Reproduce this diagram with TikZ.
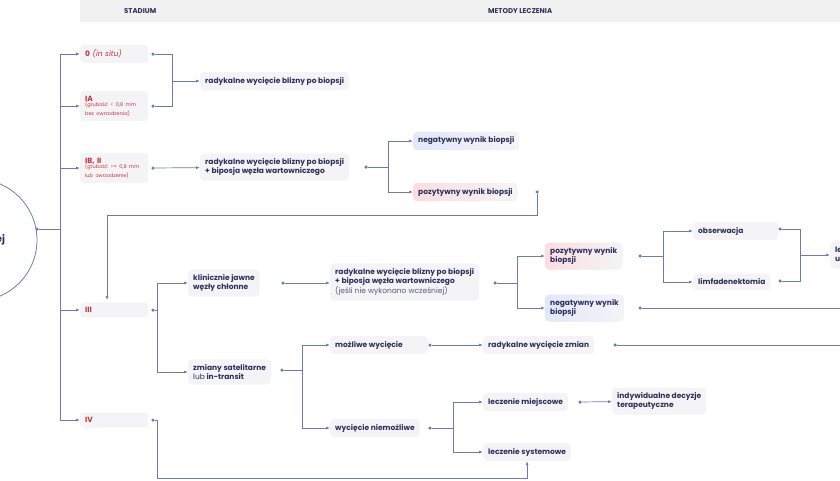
\documentclass[tikz,border=0pt]{standalone}
\usepackage{fontspec}
\setmainfont{Poppins}
\usetikzlibrary{positioning, arrows.meta}
\definecolor{navy}{HTML}{2E3058}
\definecolor{stagered}{HTML}{C8323C}
\definecolor{wirecol}{HTML}{7079B8}
\definecolor{boxgray}{HTML}{F4F4F6}
\definecolor{headgray}{HTML}{F1F1F2}
\definecolor{pinkfill}{HTML}{FBDDE0}
\definecolor{bluefill}{HTML}{E2E7FA}
\newcommand\stagenote{\fontsize{5}{6}\selectfont\mdseries}
\begin{document}
\begin{tikzpicture}[x=1pt, y=-1pt,
        box/.style={fill=boxgray, rounded corners=4pt, inner sep=5pt, anchor=west, align=left, text=navy, font=\fontsize{7.5}{9}\selectfont\bfseries},
        stage/.style={box, text=stagered, text width=58pt},
        posbox/.style={box, left color=pinkfill, right color=boxgray},
        negbox/.style={box, left color=bluefill, right color=boxgray},
        dot/.style={circle, fill=wirecol, inner sep=0pt, minimum size=3.5pt},
        link/.style={draw=wirecol, line width=0.7pt},
        arrow/.style={link, -{Latex[length=4pt, width=3pt]}}
    ]
        \useasboundingbox (0,0) rectangle (840,480);
        % header
        \node[fill=headgray, minimum width=120pt, minimum height=22pt, anchor=north west, font=\fontsize{7}{8}\selectfont\bfseries, text=navy] (headstage) at (80,0) {STADIUM};
        \node[fill=headgray, minimum width=640pt, minimum height=22pt, anchor=north west, font=\fontsize{7}{8}\selectfont\bfseries, text=navy] (headtreat) at (200,0) {METODY LECZENIA};

        % root circle
        \node[circle, draw=wirecol, line width=0.8pt, minimum size=122pt, font=\fontsize{10}{12}\selectfont\bfseries, text=navy, align=right] (root) at (-24,240) {\hspace*{34pt}owej};
        \node[dot] (droot) at (37,229) {};
        \coordinate (trunk) at (60,229);

        % stages
        \node[stage] (s0) at (80,54) {0 \textit{\mdseries(in situ)}};
        \node[stage] (sIA) at (80,106) {IA\\[-1pt]{\stagenote (grubość < 0,8 mm\\bez owrzodzenia)}};
        \node[stage] (sIB) at (80,168) {IB, II\\[-1pt]{\stagenote (grubość >= 0,8 mm\\lub owrzodzenie)}};
        \node[stage] (sIII) at (80,310) {III};
        \node[stage] (sIV) at (80,420) {IV};
        \foreach \s/\y in {s0/54, sIA/106, sIB/168, sIII/310, sIV/420} {
            \node[dot] (d\s) at (153,\y) {};
            \draw[arrow] (trunk) |- (\s.west);
        }
        \draw[link] (droot) -- (trunk);

        % stage 0 / IA
        \node[box] (scar) at (200,81) {radykalne wycięcie blizny po biopsji};
        \coordinate (j0) at (172,81);
        \draw[link] (ds0) -| (j0);
        \draw[link] (dsIA) -| (j0);
        \draw[arrow] (j0) -- (scar);

        % stage IB, II
        \node[box] (sentinel) at (200,167) {radykalne wycięcie blizny po biopsji\\+ biposja węzła wartowniczego};
        \draw[arrow] (dsIB) -- (sentinel);
        \node[dot] (dsent) at (366,167) {};
        \node[negbox] (negA) at (413,141) {negatywny wynik biopsji};
        \node[posbox] (posA) at (413,192) {pozytywny wynik biopsji};
        \coordinate (jA) at (388,167);
        \draw[link] (dsent) -- (jA);
        \draw[arrow] (jA) |- (negA);
        \draw[arrow] (jA) |- (posA);
        \node[dot] (dposA) at (537,192) {};
        \coordinate (back) at (107,300);
        \draw[arrow] (dposA) |- (107,215) -- (back);

        % stage III
        \coordinate (jIII) at (157,310);
        \draw[link] (dsIII) -- (jIII);
        \node[box] (nodes) at (188,283) {klinicznie jawne\\węzły chłonne};
        \node[box] (satel) at (188,372) {zmiany satelitarne\\{\mdseries lub} in-transit};
        \draw[arrow] (jIII) |- (nodes);
        \draw[arrow] (jIII) |- (satel);

        \node[dot] (dnodes) at (283,283) {};
        \node[box] (sentB) at (330,282) {radykalne wycięcie blizny po biopsji\\+ biposja węzła wartowniczego\\{\mdseries\color{navy!80}(jeśli nie wykonano wcześniej)}};
        \draw[arrow] (dnodes) -- (sentB.west |- dnodes);
        \node[dot] (dsentB) at (495,283) {};
        \node[posbox] (posB) at (545,256) {pozytywny wynik\\biopsji};
        \node[negbox] (negB) at (545,308) {negatywny wynik\\biopsji};
        \coordinate (jB) at (517,283);
        \draw[link] (dsentB) -- (jB);
        \draw[arrow] (jB) |- (posB);
        \draw[arrow] (jB) |- (negB);

        \node[dot] (dposB) at (640,256) {};
        \node[box] (observe) at (693,231) {obserwacja\hspace*{30pt}};
        \node[box] (lymph) at (693,282) {limfadenektomia};
        \coordinate (jC) at (663,256);
        \draw[link] (dposB) -- (jC);
        \draw[arrow] (jC) |- (observe);
        \draw[arrow] (jC) |- (lymph);
        \node[dot] (dobs) at (780,229) {};
        \node[dot] (dlym) at (780,281) {};
        \node[box] (adjuv) at (830,255) {leczenie\\uzupełniające};
        \coordinate (jD) at (800,255);
        \draw[link] (dobs) -| (jD);
        \draw[link] (dlym) -| (jD);
        \draw[arrow] (jD) -- (adjuv);
        \node[dot] (dnegB) at (640,308) {};
        \coordinate (outB) at (845,308);
        \draw[link] (dnegB) -- (outB);

        \node[dot] (dsatel) at (282,370) {};
        \coordinate (jE) at (302,370);
        \draw[link] (dsatel) -- (jE);
        \node[box] (resect) at (330,345) {możliwe wycięcie\hspace*{20pt}};
        \node[box] (noresect) at (330,428) {wycięcie niemożliwe};
        \draw[arrow] (jE) |- (resect);
        \draw[arrow] (jE) |- (noresect);
        \node[dot] (dresect) at (430,345) {};
        \node[box] (lesions) at (483,345) {radykalne wycięcie zmian};
        \draw[arrow] (dresect) -- (lesions);
        \node[dot] (dlesions) at (615,345) {};
        \coordinate (outL) at (845,345);
        \draw[link] (dlesions) -- (outL);

        \node[dot] (dnoresect) at (430,428) {};
        \coordinate (jF) at (453,428);
        \draw[link] (dnoresect) -- (jF);
        \node[box] (local) at (483,402) {leczenie miejscowe};
        \node[box] (system) at (483,452) {leczenie systemowe};
        \draw[arrow] (jF) |- (local);
        \draw[arrow] (jF) |- (system);
        \node[dot] (dlocal) at (580,402) {};
        \node[box] (individ) at (612,401) {indywidualne decyzje\\terapeutyczne};
        \draw[arrow] (dlocal) -- (individ);

        % stage IV
        \draw[arrow] (dsIV) -| (157,478) -| (system.south);
\end{tikzpicture}
\end{document}
